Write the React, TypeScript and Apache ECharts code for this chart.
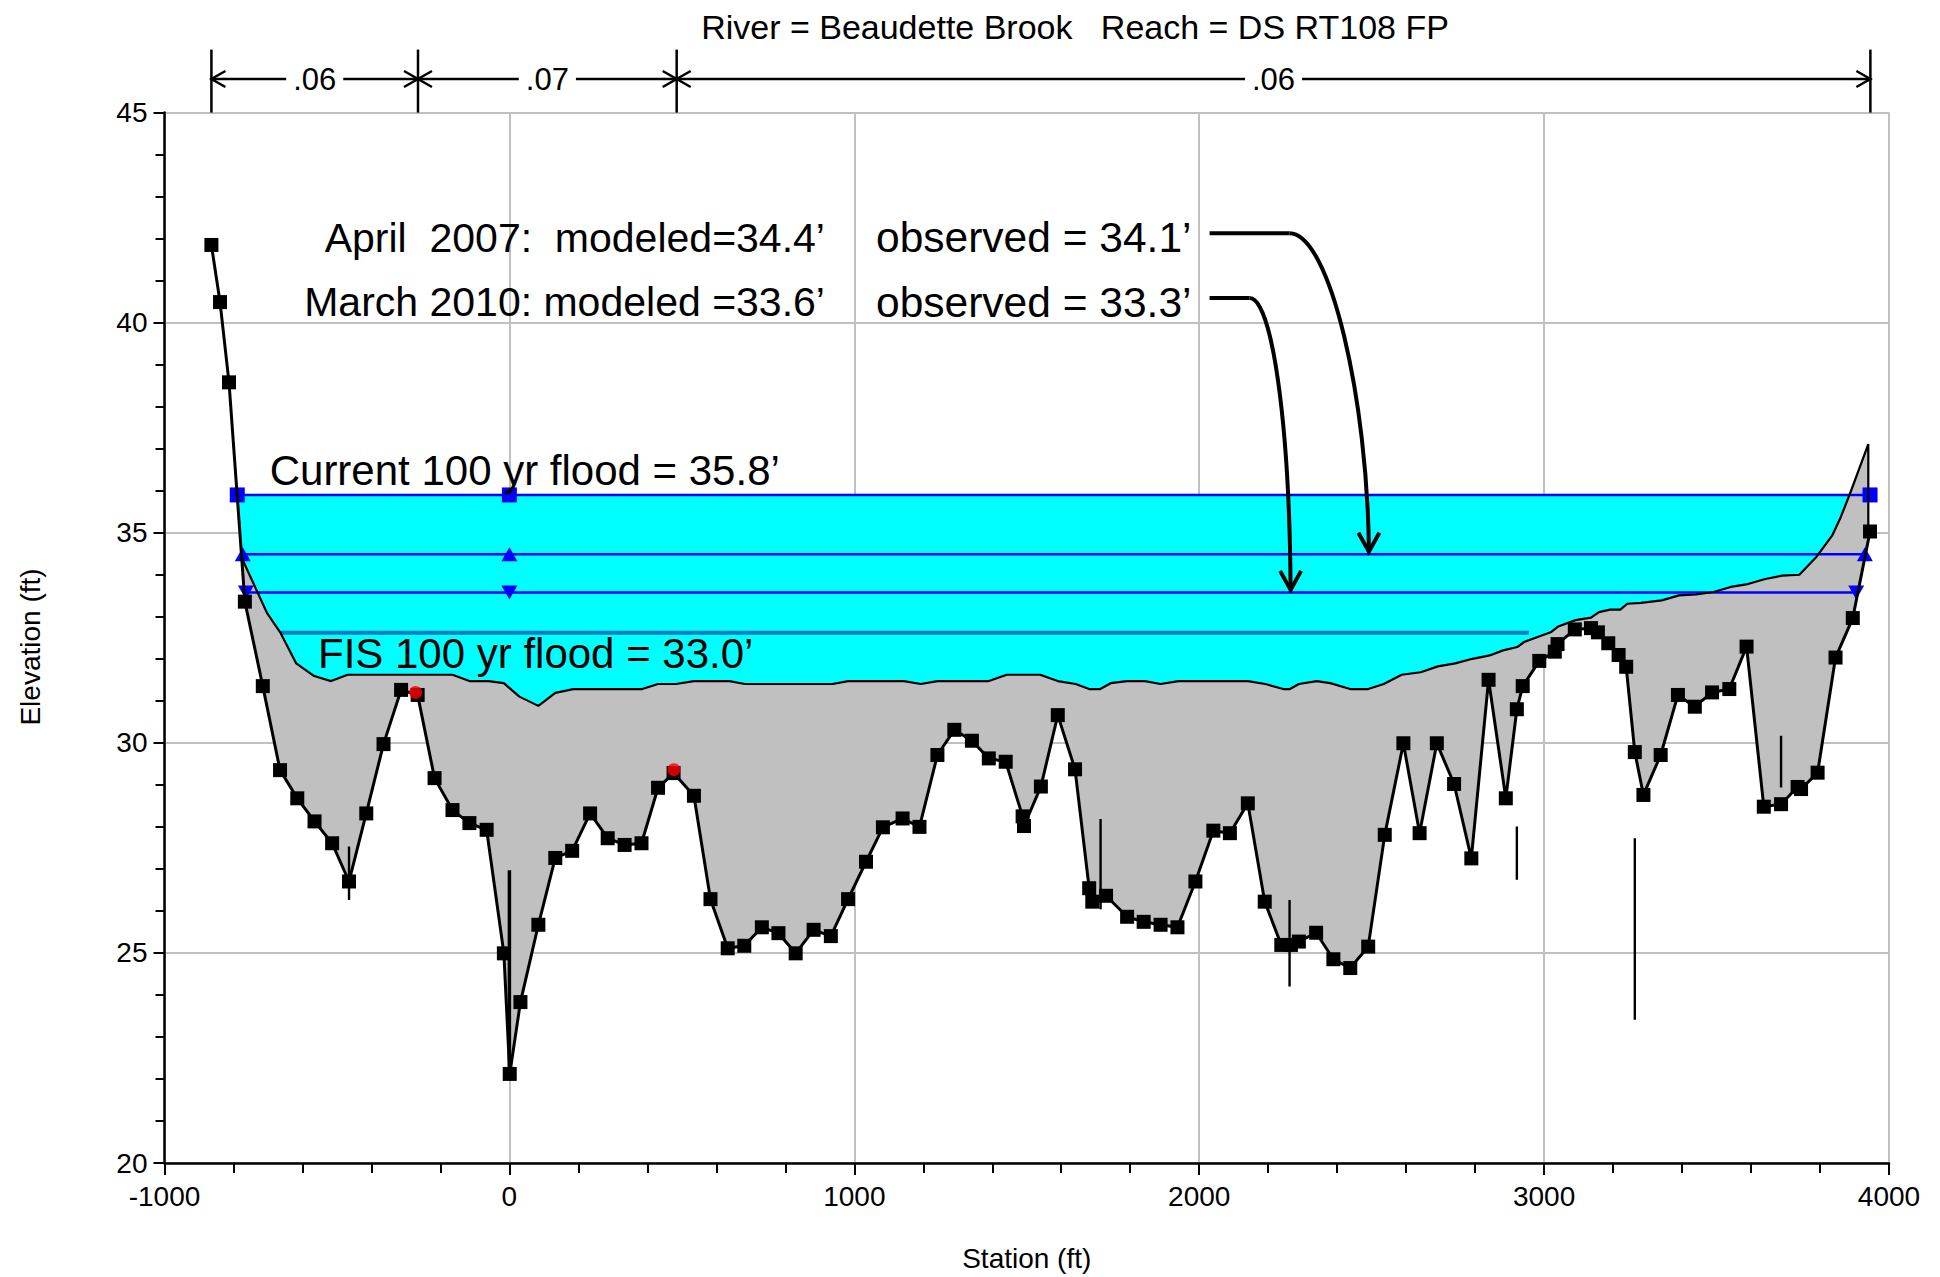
import React, { useEffect, useRef } from 'react';
import * as echarts from 'echarts';

const FONT = '"Liberation Sans", Arial, Helvetica, sans-serif';

// ---------- texts ----------
const TITLE = 'River = Beaudette Brook   Reach = DS RT108 FP';
const X_NAME = 'Station (ft)';
const Y_NAME = 'Elevation (ft)';

// ---------- axis ranges ----------
const X_RANGE = [-1000, 4000];
const X_STEP = 1000;
const Y_RANGE = [20, 45];
const Y_STEP = 5;

// ---------- ground profile (station, elevation) with square markers ----------
const groundProfile: [number, number][] = [
  [-864, 41.85], [-839, 40.49], [-813, 38.58], [-767, 33.36], [-715, 31.35],
  [-665, 29.35], [-615, 28.68], [-565, 28.13], [-514, 27.61], [-465, 26.7],
  [-415, 28.32], [-365, 29.97], [-314, 31.26], [-266, 31.14], [-217, 29.16],
  [-165, 28.4], [-116, 28.09], [-66, 27.93], [-16, 24.99], [1, 22.12],
  [32, 23.83], [84, 25.67], [133, 27.26], [182, 27.43], [234, 28.32],
  [285, 27.73], [334, 27.57], [383, 27.61], [431, 28.93], [476, 29.28],
  [535, 28.74], [583, 26.28], [633, 25.11], [681, 25.17], [732, 25.61],
  [780, 25.47], [830, 24.99], [882, 25.55], [932, 25.4], [982, 26.28],
  [1034, 27.17], [1083, 27.99], [1140, 28.2], [1189, 28.0], [1241, 29.71],
  [1290, 30.31], [1341, 30.05], [1390, 29.63], [1439, 29.55], [1488, 28.25],
  [1492, 28.02], [1541, 28.96], [1590, 30.66], [1640, 29.37], [1681, 26.54],
  [1690, 26.22], [1730, 26.36], [1791, 25.86], [1839, 25.74], [1888, 25.67],
  [1937, 25.61], [1989, 26.7], [2041, 27.91], [2089, 27.85], [2141, 28.56],
  [2190, 26.22], [2238, 25.19], [2266, 25.19], [2289, 25.27], [2339, 25.48],
  [2389, 24.85], [2438, 24.64], [2490, 25.15], [2538, 27.81], [2592, 29.99],
  [2639, 27.85], [2689, 29.99], [2739, 29.02], [2789, 27.25], [2839, 31.5],
  [2889, 28.68], [2921, 30.8], [2938, 31.35], [2986, 31.95], [3031, 32.17],
  [3039, 32.35], [3089, 32.7], [3136, 32.73], [3156, 32.63], [3186, 32.37],
  [3216, 32.09], [3238, 31.81], [3263, 29.78], [3288, 28.76], [3338, 29.71],
  [3388, 31.14], [3437, 30.86], [3487, 31.2], [3537, 31.28], [3587, 32.29],
  [3637, 28.48], [3687, 28.54], [3735, 28.95], [3745, 28.9], [3793, 29.29],
  [3845, 32.03], [3895, 32.97], [3945, 35.03],
];

// ---------- upper ground line (top of grey fill) ----------
const upperGround: [number, number][] = [
  [-776, 34.4], [-702, 33.08], [-663, 32.61], [-618, 31.89], [-566, 31.59],
  [-517, 31.47], [-469, 31.62], [-165, 31.62], [-116, 31.47], [-61, 31.47],
  [-16, 31.42], [29, 31.1], [84, 30.88], [133, 31.19], [185, 31.28],
  [385, 31.28], [431, 31.4], [483, 31.4], [535, 31.47], [638, 31.47],
  [683, 31.4], [937, 31.4], [982, 31.47], [1144, 31.47], [1193, 31.4],
  [1241, 31.47], [1390, 31.47], [1442, 31.62], [1539, 31.62], [1590, 31.47],
  [1642, 31.4], [1681, 31.28], [1713, 31.28], [1743, 31.42], [1791, 31.47],
  [1843, 31.47], [1888, 31.4], [1940, 31.47], [2141, 31.47], [2192, 31.4],
  [2244, 31.28], [2263, 31.28], [2289, 31.4], [2341, 31.47], [2380, 31.42],
  [2438, 31.28], [2490, 31.28], [2535, 31.4], [2587, 31.62], [2642, 31.68],
  [2692, 31.82], [2742, 31.89], [2792, 32.0], [2842, 32.08], [2881, 32.2],
  [2922, 32.28], [2942, 32.4], [2981, 32.52], [3021, 32.64], [3041, 32.77],
  [3091, 32.92], [3136, 32.98], [3159, 33.11], [3191, 33.17], [3221, 33.17],
  [3241, 33.31], [3281, 33.33], [3341, 33.39], [3391, 33.51], [3441, 33.53],
  [3491, 33.59], [3541, 33.71], [3586, 33.77], [3641, 33.9], [3690, 33.98],
  [3740, 34.0], [3790, 34.43], [3835, 34.93], [3860, 35.37], [3890, 36.0],
  [3940, 37.11], [3940, 35.03],
];

// ---------- bank stations (red dots) ----------
const bankStations: [number, number][] = [[-272, 31.2], [477, 29.36]];

// ---------- short vertical marks (station, top, bottom) ----------
const verticalMarks: [number, number, number][] = [
  [-465, 27.53, 26.26], [1714, 28.19, 26.04], [2262, 26.26, 24.2],
  [2921, 28.01, 26.74], [3263, 27.73, 23.41], [3687, 30.17, 28.94],
];
const channelMark: [number, number, number] = [0, 26.97, 22.15];

// ---------- water surfaces ----------
const wsCurrentElev = 35.9;
const wsCurrentStations = [-789, 0, 3945];
const wsApril2007Elev = 34.49;
const wsApril2007Stations = [-773, 0, 3930];
const wsMarch2010Elev = 33.58;
const wsMarch2010Stations = [-764, 0, 3905];
const wsFisElev = 32.62;
const wsFisStations = [-663, 2956];

// ---------- Manning's n breaks ----------
const nBreaks = [-864, -265, 485, 3946];
const nValues = ['.06', '.07', '.06'];

// ---------- annotations (anchored in station / elevation) ----------
const aprilLeftText = 'April  2007:  modeled=34.4\u2019';
const aprilRightText = 'observed = 34.1\u2019';
const marchLeftText = 'March 2010: modeled =33.6\u2019';
const marchRightText = 'observed = 33.3\u2019';
const currentText = 'Current 100 yr flood = 35.8\u2019';
const fisText = 'FIS 100 yr flood = 33.0\u2019';
const aprilTextAnchor = { left: [915, 42.02], right: [1063, 42.02] };
const marchTextAnchor = { left: [915, 40.49], right: [1063, 40.49] };
const currentTextAnchor = [-695, 36.47];
const fisTextAnchor = [-555, 32.12];
const aprilArrow = { start: [2030, 42.13], corner: [2262, 42.13], cp1: [2379, 42.13], cp2: [2489, 38.16], tip: [2492, 34.55] };
const marchArrow = { start: [2030, 40.59], corner: [2146, 40.59], cp1: [2210, 40.59], cp2: [2262, 37.68], tip: [2265, 33.64] };

function wsLine(elev: number, stations: number[]) {
  return stations.map((s) => [s, elev]);
}

function buildOption() {
  const last = upperGround[upperGround.length - 1];
  const waterPolygon = [
    [wsCurrentStations[0], wsCurrentElev],
    [last[0], wsCurrentElev],
    ...upperGround.slice().reverse(),
  ];
  const lowerInside = groundProfile.filter((p) => p[0] > upperGround[0][0]);
  const groundPolygon = [...upperGround, ...lowerInside.slice().reverse()];

  const marksData: any[] = [];
  verticalMarks.forEach(([s, t, b]) => {
    marksData.push([s, t], [s, b], [s, '-']);
  });

  const axisLineStyle = { color: '#000', width: 2.5 };
  const tickStyle = { color: '#000', width: 2 };
  const splitStyle = { color: '#c0c0c0', width: 2 };

  const polygonSeries = (pts: number[][], fill: string, z: number) => ({
    type: 'custom',
    silent: true,
    z,
    data: [[0, 30]],
    renderItem: (_params: any, api: any) => ({
      type: 'polygon',
      shape: { points: pts.map((p) => api.coord(p)) },
      style: { fill, stroke: 'none' },
    }),
  });

  return {
    animation: false,
    backgroundColor: '#ffffff',
    grid: { left: 164.5, top: 112.6, width: 1724.5, height: 1050.4, containLabel: false },
    xAxis: {
      type: 'value',
      min: X_RANGE[0],
      max: X_RANGE[1],
      interval: X_STEP,
      axisLine: { show: true, onZero: false, lineStyle: axisLineStyle },
      axisTick: { show: true, length: 12, lineStyle: tickStyle },
      minorTick: { show: true, splitNumber: 5, length: 10, lineStyle: tickStyle },
      axisLabel: { color: '#000', fontSize: 28, fontFamily: FONT, margin: 19, formatter: (v: number) => String(v) },
      splitLine: { show: true, lineStyle: splitStyle },
    },
    yAxis: {
      type: 'value',
      min: Y_RANGE[0],
      max: Y_RANGE[1],
      interval: Y_STEP,
      axisLine: { show: true, onZero: false, lineStyle: axisLineStyle },
      axisTick: { show: true, length: 11, lineStyle: tickStyle },
      minorTick: { show: true, splitNumber: 5, length: 9, lineStyle: tickStyle },
      axisLabel: { color: '#000', fontSize: 28, fontFamily: FONT, margin: 17, formatter: (v: number) => String(v) },
      splitLine: { show: true, lineStyle: splitStyle },
    },
    series: [
      polygonSeries(waterPolygon, '#00ffff', 1),
      polygonSeries(groundPolygon, '#c0c0c0', 2),
      {
        name: 'FIS',
        type: 'line',
        z: 3,
        silent: true,
        symbol: 'none',
        data: wsLine(wsFisElev, wsFisStations),
        lineStyle: { color: '#0a7ec2', width: 4 },
      },
      {
        name: 'Current 100 yr',
        type: 'line',
        z: 4,
        silent: true,
        symbol: 'rect',
        symbolSize: 15,
        data: wsLine(wsCurrentElev, wsCurrentStations),
        itemStyle: { color: '#0000ff' },
        lineStyle: { color: '#0000ff', width: 2.5 },
      },
      {
        name: 'April 2007',
        type: 'line',
        z: 4,
        silent: true,
        symbol: 'triangle',
        symbolSize: [16, 14],
        data: wsLine(wsApril2007Elev, wsApril2007Stations),
        itemStyle: { color: '#0000ff' },
        lineStyle: { color: '#0000ff', width: 2.5 },
      },
      {
        name: 'March 2010',
        type: 'line',
        z: 4,
        silent: true,
        symbol: 'triangle',
        symbolRotate: 180,
        symbolSize: [16, 14],
        data: wsLine(wsMarch2010Elev, wsMarch2010Stations),
        itemStyle: { color: '#0000ff' },
        lineStyle: { color: '#0000ff', width: 2.5 },
      },
      {
        name: 'Upper ground',
        type: 'line',
        z: 5,
        silent: true,
        symbol: 'none',
        data: upperGround,
        lineStyle: { color: '#000', width: 2.2 },
      },
      {
        name: 'Marks',
        type: 'line',
        z: 5,
        silent: true,
        symbol: 'none',
        connectNulls: false,
        data: marksData,
        lineStyle: { color: '#000', width: 2.4 },
      },
      {
        name: 'Channel mark',
        type: 'line',
        z: 5,
        silent: true,
        symbol: 'none',
        data: [[channelMark[0], channelMark[1]], [channelMark[0], channelMark[2]]],
        lineStyle: { color: '#000', width: 3.5 },
      },
      {
        name: 'Ground',
        type: 'line',
        z: 6,
        silent: true,
        symbol: 'rect',
        symbolSize: 14,
        data: groundProfile,
        itemStyle: { color: '#000' },
        lineStyle: { color: '#000', width: 3 },
      },
      {
        name: 'Bank Sta',
        type: 'scatter',
        z: 7,
        silent: true,
        symbol: 'circle',
        symbolSize: 13,
        data: bankStations,
        itemStyle: { color: '#ff0000' },
      },
    ],
  };
}

export default function App() {
  const ref = useRef<HTMLDivElement>(null);
  useEffect(() => {
    if (!ref.current) return;
    const chart = echarts.init(ref.current, null, { renderer: 'svg' });
    chart.setOption(buildOption() as any);

    const px = (p: number[]) => chart.convertToPixel({ gridIndex: 0 }, p) as number[];
    const g: any[] = [];
    const text = (x: number, y: number, t: string, size: number, align: string, extra: any = {}, rotation = 0) => ({
      type: 'text',
      x,
      y,
      rotation,
      z: 100,
      silent: true,
      style: {
        text: t,
        fill: '#000',
        fontSize: size,
        fontFamily: FONT,
        align,
        verticalAlign: 'middle',
        textAlign: align,
        textVerticalAlign: 'middle',
        ...extra,
      },
    });
    const seg = (a: number[], b: number[], w: number) => ({
      type: 'line',
      z: 100,
      silent: true,
      shape: { x1: a[0], y1: a[1], x2: b[0], y2: b[1] },
      style: { stroke: '#000', lineWidth: w },
    });
    const poly = (pts: number[][], w: number) => ({
      type: 'polyline',
      z: 100,
      silent: true,
      shape: { points: pts },
      style: { stroke: '#000', lineWidth: w, fill: 'none' },
    });

    // title and axis names
    const gTop = px([X_RANGE[0], Y_RANGE[1]]);
    const gBot = px([X_RANGE[1], Y_RANGE[0]]);
    g.push(text(1075, 26.5, TITLE, 34, 'center'));
    g.push(text((gTop[0] + gBot[0]) / 2, 1258, X_NAME, 28, 'center'));
    g.push(text(30, 647, Y_NAME, 28, 'center', {}, Math.PI / 2));

    // Manning's n bar
    const top = gTop[1];
    const hy = top - 33.6;
    nBreaks.forEach((b) => {
      const x = px([b, Y_RANGE[1]])[0];
      g.push(seg([x, top - 63], [x, top], 2.5));
    });
    for (let i = 0; i < nValues.length; i++) {
      const xl = px([nBreaks[i], Y_RANGE[1]])[0];
      const xr = px([nBreaks[i + 1], Y_RANGE[1]])[0];
      g.push(seg([xl, hy], [xr, hy], 2.5));
      g.push(poly([[xl + 14, hy - 8], [xl, hy], [xl + 14, hy + 8]], 2.5));
      g.push(poly([[xr - 14, hy - 8], [xr, hy], [xr - 14, hy + 8]], 2.5));
      g.push(text((xl + xr) / 2, hy, nValues[i], 31, 'center', { backgroundColor: '#ffffff', padding: [0, 7] }));
    }

    // annotation texts
    const aL = px(aprilTextAnchor.left), aR = px(aprilTextAnchor.right);
    const mL = px(marchTextAnchor.left), mR = px(marchTextAnchor.right);
    g.push(text(aL[0], aL[1], aprilLeftText, 41, 'right'));
    g.push(text(aR[0], aR[1], aprilRightText, 42.5, 'left'));
    g.push(text(mL[0], mL[1], marchLeftText, 41, 'right'));
    g.push(text(mR[0], mR[1], marchRightText, 42.5, 'left'));
    const c = px(currentTextAnchor), f = px(fisTextAnchor);
    g.push(text(c[0], c[1], currentText, 42, 'left'));
    g.push(text(f[0], f[1], fisText, 42, 'left'));

    // curved arrows
    [aprilArrow, marchArrow].forEach((a) => {
      const s = px(a.start), k = px(a.corner), c1 = px(a.cp1), c2 = px(a.cp2), t = px(a.tip);
      g.push(seg(s, k, 4));
      g.push({
        type: 'bezierCurve',
        z: 100,
        silent: true,
        shape: { x1: k[0], y1: k[1], cpx1: c1[0], cpy1: c1[1], cpx2: c2[0], cpy2: c2[1], x2: t[0], y2: t[1] },
        style: { stroke: '#000', lineWidth: 4, fill: 'none' },
      });
      g.push(poly([[t[0] - 10.5, t[1] - 19], [t[0], t[1]], [t[0] + 10.5, t[1] - 19]], 4));
    });

    chart.setOption({ graphic: g } as any);
    return () => chart.dispose();
  }, []);
  return (
    <div
      ref={ref}
      style={{ position: 'fixed', left: 0, top: 0, width: 1940, height: 1277, background: '#ffffff' }}
    />
  );
}
